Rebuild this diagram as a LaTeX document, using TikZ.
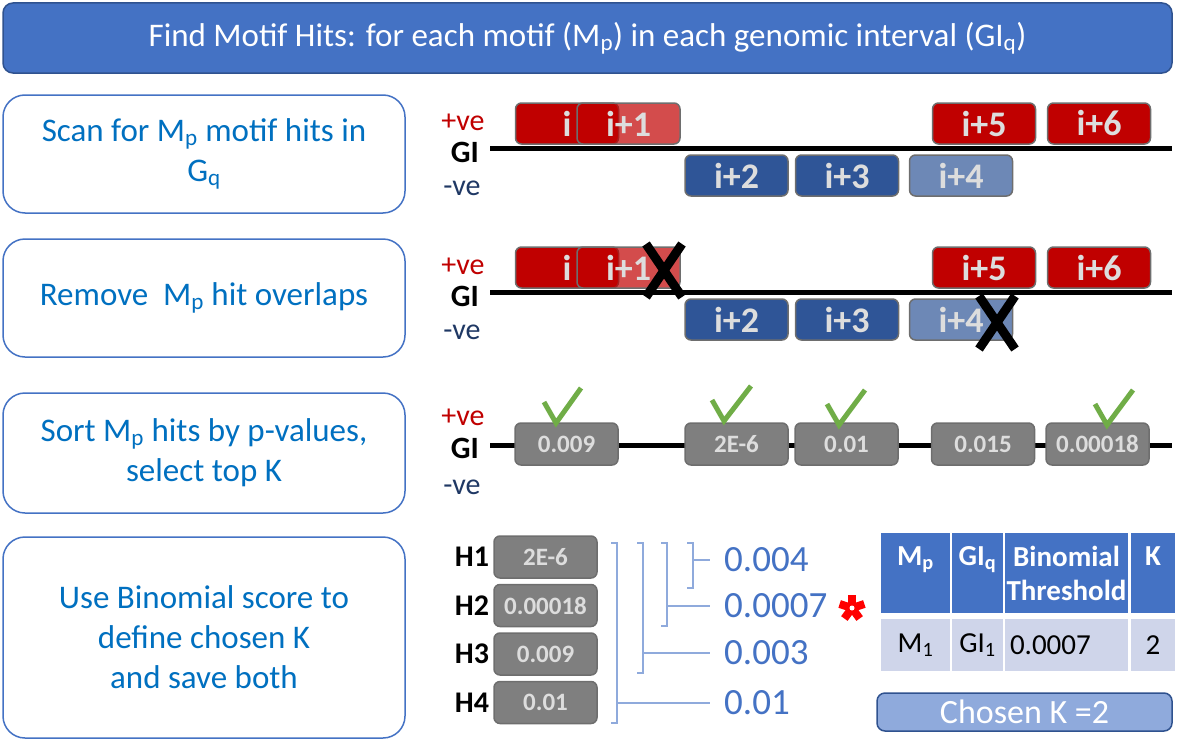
\documentclass[tikz,border=0pt]{standalone}
\usepackage{fontspec}
\setmainfont{Carlito}
\usepackage{tikz}
\usetikzlibrary{positioning}
\definecolor{pptblue}{HTML}{4472C4}
\definecolor{darkblue}{HTML}{2F528F}
\definecolor{textblue}{HTML}{0070C0}
\definecolor{hitred}{HTML}{C00000}
\definecolor{hitblue}{HTML}{2F5597}
\definecolor{hitgray}{HTML}{7F7F7F}
\definecolor{edgegray}{HTML}{6E6E6E}
\definecolor{hittext}{HTML}{DDDDDD}
\definecolor{minusblue}{HTML}{1F3864}
\definecolor{tickgreen}{HTML}{70AD47}
\definecolor{bracketblue}{HTML}{8FAADC}
\definecolor{cellblue}{HTML}{CFD5EA}
\definecolor{starred}{HTML}{FF0000}
\tikzstyle{header} = [rectangle, rounded corners=10, minimum width=1169, minimum height=70, draw=darkblue, line width=1.5, fill=pptblue, text=white, font=\fontsize{33}{40}\selectfont]
\tikzstyle{stepbox} = [rectangle, rounded corners=22, minimum width=402, draw=pptblue, line width=1.5, fill=white, text=textblue, align=center, font=\fontsize{33}{40}\selectfont]
\tikzstyle{hit} = [rectangle, rounded corners=6, minimum width=103, minimum height=41, inner sep=0, draw=edgegray, line width=1.5, text=hittext, font=\bfseries\fontsize{36}{38}\selectfont]
\tikzstyle{plushit} = [hit, fill=hitred]
\tikzstyle{minushit} = [hit, fill=hitblue]
\tikzstyle{pvalue} = [hit, fill=hitgray, minimum height=42, font=\bfseries\fontsize{25}{28}\selectfont]
\tikzstyle{strandplus} = [text=hitred, font=\fontsize{30}{36}\selectfont]
\tikzstyle{strandminus} = [text=minusblue, font=\fontsize{30}{36}\selectfont]
\tikzstyle{gilabel} = [font=\bfseries\fontsize{31}{36}\selectfont]
\tikzstyle{hlabel} = [inner xsep=4, font=\bfseries\fontsize{30}{34}\selectfont]
\tikzstyle{track} = [line width=5, black]
\tikzstyle{dropmark} = [line width=9, black]
\tikzstyle{checkmark} = [line width=5, tickgreen]
\tikzstyle{bracket} = [line width=1.5, bracketblue]
\tikzstyle{score} = [anchor=west, inner xsep=14, inner ysep=2, text=pptblue, font=\fontsize{37}{42}\selectfont]
\tikzstyle{thead} = [rectangle, minimum height=80, inner sep=0, fill=pptblue, text=white, align=center, font=\bfseries\fontsize{29}{34}\selectfont]
\tikzstyle{tcell} = [rectangle, minimum height=52, inner sep=0, fill=cellblue, font=\fontsize{29}{34}\selectfont]
\tikzstyle{chosen} = [rectangle, rounded corners=8, minimum width=295, minimum height=38, draw=darkblue, line width=1.5, fill=bracketblue, text=white, font=\fontsize{34}{36}\selectfont]

\begin{document}
\begin{tikzpicture}[x=1pt, y=-1pt]
    \useasboundingbox (0,0) rectangle (1177,752);

    \node (title) [header] at (587.5,38) {Find Motif Hits: for each motif (M\textsubscript{p}) in each genomic interval (GI\textsubscript{q})};

    % steps on the left
    \node (scan) [stepbox, minimum height=118] at (204,154) {Scan for M\textsubscript{p} motif hits in\\G\textsubscript{q}};
    \node (remove) [stepbox, minimum height=118] at (204,298) {Remove\ \ M\textsubscript{p} hit overlaps};
    \node (sort) [stepbox, minimum height=120] at (204,453) {Sort M\textsubscript{p} hits by p-values,\\select top K};
    \node (binom) [stepbox, minimum height=201] at (204,637.5) {Use Binomial score to\\define chosen K\\and save both};

    % scan row
    \node (plus1) [strandplus] at (463,122) {+ve};
    \node (gi1) [gilabel] at (465,152) {GI};
    \node (minus1) [strandminus] at (462,188) {-ve};
    \coordinate (t1a) at (490,148);
    \coordinate (t1b) at (1172,148);
    \draw [track] (t1a) -- (t1b);
    \node (s1h0) [plushit] at (567,123.5) {i};
    \node (s1h1) [plushit, fill opacity=0.7, text opacity=1] at (628.5,123.5) {i+1};
    \node (s1h5) [plushit] at (984,123.5) {i+5};
    \node (s1h6) [plushit] at (1099,123.5) {i+6};
    \node (s1h2) [minushit] at (736.5,175.5) {i+2};
    \node (s1h3) [minushit] at (847,175.5) {i+3};
    \node (s1h4) [minushit, fill opacity=0.7, text opacity=1] at (961,175.5) {i+4};

    % overlap row
    \node (plus2) [strandplus] at (463,266) {+ve};
    \node (gi2) [gilabel] at (465,296) {GI};
    \node (minus2) [strandminus] at (462,332) {-ve};
    \coordinate (t2a) at (490,292);
    \coordinate (t2b) at (1172,292);
    \draw [track] (t2a) -- (t2b);
    \node (s2h0) [plushit] at (567,267.5) {i};
    \node (s2h1) [plushit, fill opacity=0.7, text opacity=1] at (628.5,267.5) {i+1};
    \node (s2h5) [plushit] at (984,267.5) {i+5};
    \node (s2h6) [plushit] at (1099,267.5) {i+6};
    \node (s2h2) [minushit] at (736.5,319.5) {i+2};
    \node (s2h3) [minushit] at (847,319.5) {i+3};
    \node (s2h4) [minushit, fill opacity=0.7, text opacity=1] at (961,319.5) {i+4};
    \draw [dropmark] (646,244) -- (682,297);
    \draw [dropmark] (682,244) -- (646,297);
    \draw [dropmark] (979,296) -- (1015,349);
    \draw [dropmark] (1015,296) -- (979,349);

    % sorted row
    \node (plus3) [strandplus] at (463,417) {+ve};
    \node (gi3) [gilabel] at (465,448) {GI};
    \node (minus3) [strandminus] at (462,487) {-ve};
    \coordinate (t3a) at (490,445);
    \coordinate (t3b) at (1172,445);
    \draw [track] (t3a) -- (t3b);
    \node (p1) [pvalue] at (566.5,444) {0.009};
    \node (p2) [pvalue] at (736.5,444) {2E-6};
    \node (p3) [pvalue] at (846.5,444) {0.01};
    \node (p4) [pvalue] at (983,444) {0.015};
    \node (p5) [pvalue] at (1097.5,444) {0.00018};
    \draw [checkmark] (544,402) -- (556,423) -- (581,388);
    \draw [checkmark] (712,400) -- (724,421) -- (751,386);
    \draw [checkmark] (827,404) -- (839,425) -- (865,390);
    \draw [checkmark] (1095,404) -- (1107,425) -- (1133,390);

    % binomial scores
    \node (h1) [pvalue] at (545.5,557) {2E-6};
    \node (h2) [pvalue, below=5pt of h1] {0.00018};
    \node (h3) [pvalue, below=5pt of h2] {0.009};
    \node (h4) [pvalue, below=5pt of h3] {0.01};
    \node (lh1) [hlabel, left=0pt of h1] {H1};
    \node (lh2) [hlabel, left=0pt of h2] {H2};
    \node (lh3) [hlabel, left=0pt of h3] {H3};
    \node (lh4) [hlabel, left=0pt of h4] {H4};

    \node (v1) [score] at (710,560) {0.004};
    \node (v2) [score] at (710,606) {0.0007};
    \node (v3) [score] at (710,653) {0.003};
    \node (v4) [score] at (710,703) {0.01};

    \coordinate (b1) at (693,543);
    \coordinate (b1e) at (693,588);
    \coordinate (b2) at (667,543);
    \coordinate (b2e) at (667,626);
    \coordinate (b3) at (643,543);
    \coordinate (b3e) at (643,673);
    \coordinate (b4) at (617,543);
    \coordinate (b4e) at (617,723);
    \draw [bracket] ([xshift=-6]b1) -- (b1) -- (b1e) -- ([xshift=-6]b1e);
    \draw [bracket] ([xshift=-6]b2) -- (b2) -- (b2e) -- ([xshift=-6]b2e);
    \draw [bracket] ([xshift=-6]b3) -- (b3) -- (b3e) -- ([xshift=-6]b3e);
    \draw [bracket] ([xshift=-6]b4) -- (b4) -- (b4e) -- ([xshift=-6]b4e);
    \draw [bracket] (v1.west -| b1) -- (v1.west);
    \draw [bracket] (v2.west -| b2) -- (v2.west);
    \draw [bracket] (v3.west -| b3) -- (v3.west);
    \draw [bracket] (v4.west -| b4) -- (v4.west);

    % chosen threshold mark
    \coordinate (star) at (852,608);
    \foreach \a in {-90,-18,54,126,198}
        \draw [starred, line width=8] (star) -- ++(\a:13);
    \fill [white] (star) circle (2.5);

    % result table
    \node (c11) [thead, minimum width=69] at (915.5,573) {M\textsubscript{p}\\\mbox{}};
    \node (c12) [thead, minimum width=51] at (977.5,573) {GI\textsubscript{q}\\\mbox{}};
    \node (c13) [thead, minimum width=123] at (1066.5,573) {Binomial\\Threshold};
    \node (c14) [thead, minimum width=44] at (1153,573) {K\\\mbox{}};
    \node (c21) [tcell, minimum width=69] at (915.5,645) {M\textsubscript{1}};
    \node (c22) [tcell, minimum width=51] at (977.5,645) {GI\textsubscript{1}};
    \node (c23) [tcell, minimum width=123, text width=113, align=left] at (1066.5,645) {0.0007};
    \node (c24) [tcell, minimum width=44] at (1153,645) {2};

    \node (chosenk) [chosen] at (1024.5,712) {Chosen K =2};
\end{tikzpicture}
\end{document}
